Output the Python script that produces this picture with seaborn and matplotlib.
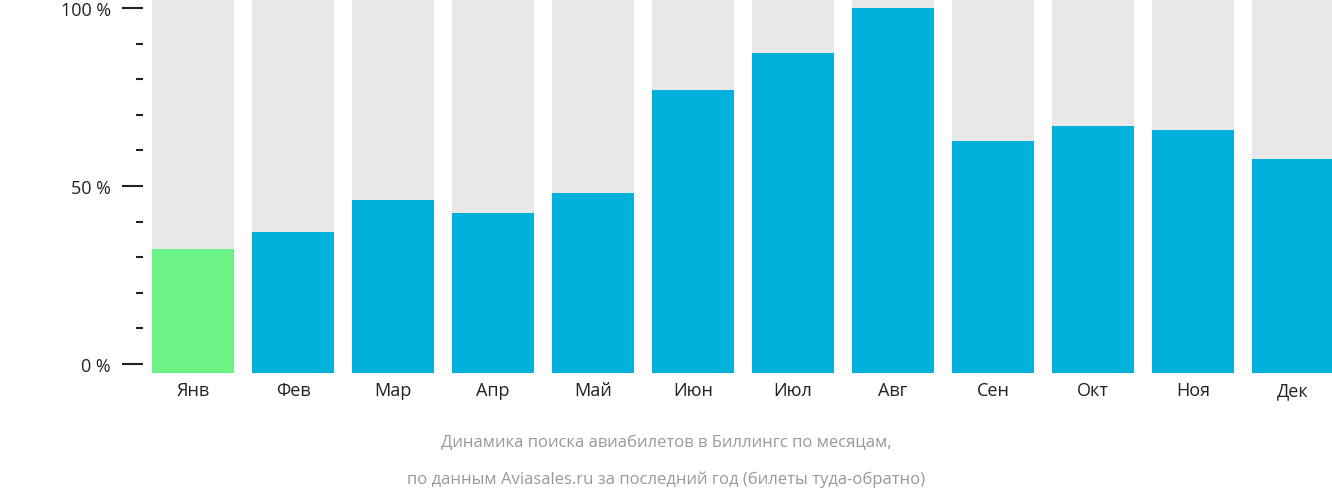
import matplotlib
matplotlib.use("Agg")
import matplotlib.pyplot as plt
import seaborn as sns
import pandas as pd
from matplotlib.ticker import MultipleLocator, FixedLocator

months = ["Янв", "Фев", "Мар", "Апр", "Май", "Июн", "Июл", "Авг", "Сен", "Окт", "Ноя", "Дек"]
values = [32.3, 37.0, 46.0, 42.4, 48.0, 77.0, 87.4, 100.0, 62.6, 66.9, 65.7, 57.6]
highlight = "Янв"

ymin, ymax = -2.6, 102.6
df = pd.DataFrame({"month": months, "value": values})
df["h"] = [v - ymin for v in values]
df["bg"] = ymax - ymin
df["kind"] = ["low" if m == highlight else "norm" for m in months]

plt.rcParams["font.family"] = "Open Sans"
fig = plt.figure(figsize=(13.32, 5.02), dpi=100)
ax = fig.add_axes([143/1332, 1-374/502, 1200/1332, 374/502])

sns.barplot(data=df, x="month", y="bg", color="#e8e8e8", width=0.82, ax=ax,
            bottom=ymin, saturation=1)
sns.barplot(data=df, x="month", y="h", hue="kind", palette={"low": "#6cf285", "norm": "#02b0dc"},
            width=0.82, ax=ax, bottom=ymin, saturation=1, legend=False, dodge=False)

ax.set_ylim(ymin, ymax)
ax.set_xlim(-0.5, 11.5)
ax.yaxis.set_major_locator(FixedLocator([0, 50, 100]))
ax.yaxis.set_minor_locator(MultipleLocator(10))
ax.set_yticklabels(["0 %", "50 %", "100 %"])
ax.tick_params(axis="y", which="major", length=15, width=1.5, labelsize=13, colors="#222222", pad=8)
ax.tick_params(axis="y", which="minor", length=5, width=1.5, colors="#222222")
ax.tick_params(axis="x", length=0, labelsize=13, labelcolor="#222222", pad=6)
ax.set_xlabel("")
ax.set_ylabel("")
for s in ax.spines.values():
    s.set_visible(False)

fig.text(0.5, 1-443/502, "Динамика поиска авиабилетов в Биллингс по месяцам,", ha="center", va="center",
         fontsize=12, color="#999999")
fig.text(0.5, 1-480/502, "по данным Aviasales.ru за последний год (билеты туда-обратно)", ha="center",
         va="center", fontsize=12, color="#999999")
fig.savefig("out.png", dpi=100)
